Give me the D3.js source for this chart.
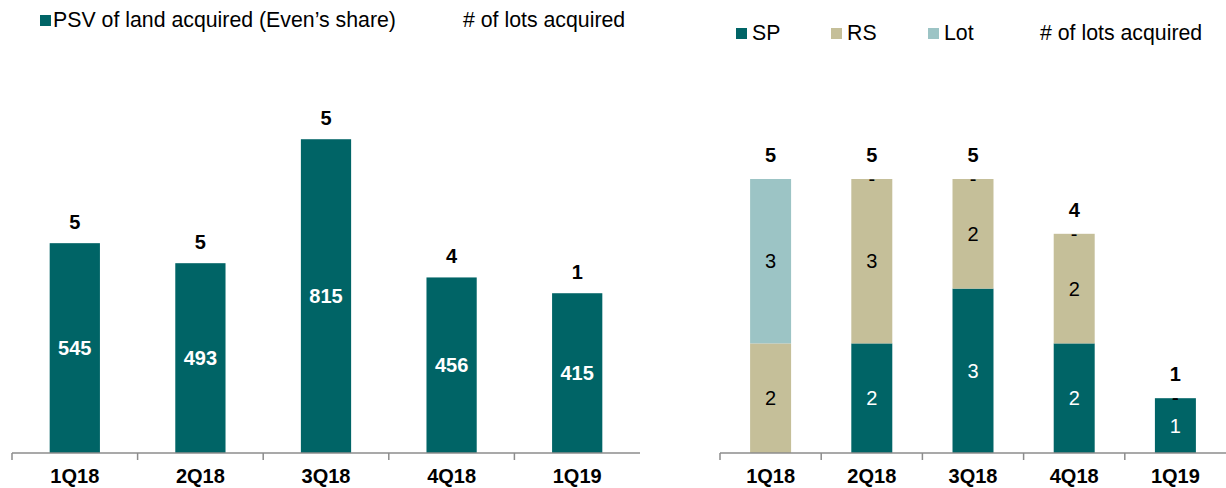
<!DOCTYPE html>
<html><head><meta charset="utf-8">
<script src="https://cdn.jsdelivr.net/npm/d3@7/dist/d3.min.js"></script>
<style>body{margin:0;background:#fff}svg{display:block;font-family:"Liberation Sans",Arial,sans-serif}</style>
</head><body><svg id="c" width="1226" height="488"></svg>
<script>
const categories = ["1Q18","2Q18","3Q18","4Q18","1Q19"];
const psv = [545,493,815,456,415];
const lots = [5,5,5,4,1];
const sp = [0,2,3,2,1];
const rs = [2,3,2,2,0];
const lot = [3,0,0,0,0];
const seriesNames = ["SP","RS","Lot"];

const C = {SP:"#006466", RS:"#C5BF99", Lot:"#9CC4C5", axis:"#8c8c8c"};
const svg = d3.select("#c");
const base = 453;

// ---- Left chart
const xL = d3.scaleBand().domain(categories).range([12,640]).paddingInner(0.6).paddingOuter(0.3);
const yL = d3.scaleLinear().domain([0,1000]).range([base, base-385]);
const gL = svg.append("g");
gL.selectAll("rect").data(categories).join("rect")
  .attr("x", d=>xL(d)).attr("width", xL.bandwidth())
  .attr("y", (d,i)=>yL(psv[i])).attr("height",(d,i)=>base-yL(psv[i])).attr("fill", C.SP);
gL.selectAll("text.v").data(categories).join("text").attr("class","v")
  .attr("x", d=>xL(d)+xL.bandwidth()/2).attr("y",(d,i)=>(yL(psv[i])+base)/2).attr("dy","0.35em")
  .attr("text-anchor","middle").attr("fill","#fff").attr("font-weight","bold").attr("font-size",20)
  .text((d,i)=>psv[i]);
gL.selectAll("text.t").data(categories).join("text").attr("class","t")
  .attr("x", d=>xL(d)+xL.bandwidth()/2).attr("y",(d,i)=>yL(psv[i])-14)
  .attr("text-anchor","middle").attr("fill","#000").attr("font-weight","bold").attr("font-size",20)
  .text((d,i)=>lots[i]);
const stepL = xL.step();
const axL = gL.append("g").attr("transform",`translate(0,${base})`);
axL.append("line").attr("x1",12).attr("x2",640).attr("stroke",C.axis).attr("stroke-width",1.5);
axL.selectAll("line.tk").data(categories).join("line").attr("class","tk")
  .attr("x1",d=>xL(d)+xL.bandwidth()/2-stepL/2).attr("x2",d=>xL(d)+xL.bandwidth()/2-stepL/2)
  .attr("y1",0).attr("y2",7).attr("stroke",C.axis).attr("stroke-width",1.5);
axL.selectAll("text").data(categories).join("text")
  .attr("x",d=>xL(d)+xL.bandwidth()/2).attr("y",30).attr("text-anchor","middle")
  .attr("font-weight","bold").attr("font-size",20).attr("fill","#000").text(d=>d);

// legend left
svg.append("rect").attr("x",40).attr("y",15).attr("width",11).attr("height",11).attr("fill",C.SP);
svg.append("text").attr("x",53).attr("y",27).attr("font-size",21.3).attr("fill","#000").text("PSV of land acquired (Even’s share)");
svg.append("text").attr("x",463).attr("y",27).attr("font-size",21.3).attr("fill","#000").text("# of lots acquired");

// ---- Right chart
const xR = d3.scaleBand().domain(categories).range([720,1226]).paddingInner(0.595).paddingOuter(0.2975);
const yR = d3.scaleLinear().domain([0,5]).range([base, base-274]);
const table = categories.map((c,i)=>({cat:c, SP:sp[i], RS:rs[i], Lot:lot[i]}));
const stack = d3.stack().keys(seriesNames)(table);
const gR = svg.append("g");
stack.forEach(layer=>{
  const key = layer.key;
  gR.append("g").selectAll("rect").data(layer).join("rect")
    .attr("x",d=>xR(d.data.cat)).attr("width",xR.bandwidth())
    .attr("y",d=>yR(d[1])).attr("height",d=>yR(d[0])-yR(d[1])).attr("fill",C[key]);
});
stack.forEach(layer=>{
  const key = layer.key;
  gR.append("g").selectAll("text").data(layer.filter(d=>!(d.data[key]===0 && d[0]===0))).join("text")
    .attr("x",d=>xR(d.data.cat)+xR.bandwidth()/2)
    .attr("y",d=>d.data[key]===0 ? yR(d[1]) : (yR(d[0])+yR(d[1]))/2).attr("dy","0.35em")
    .attr("text-anchor","middle").attr("font-size",20)
    .attr("fill",d=>key==="SP" && d.data[key]>0 ? "#fff" : "#000")
    .text(d=>d.data[key]===0 ? "-" : d.data[key]);
});
gR.selectAll("text.t").data(categories).join("text").attr("class","t")
  .attr("x",d=>xR(d)+xR.bandwidth()/2).attr("y",(d,i)=>yR(lots[i])-17)
  .attr("text-anchor","middle").attr("font-weight","bold").attr("font-size",20).attr("fill","#000")
  .text((d,i)=>lots[i]);
const stepR = xR.step();
const axR = gR.append("g").attr("transform",`translate(0,${base})`);
axR.append("line").attr("x1",720).attr("x2",1226).attr("stroke",C.axis).attr("stroke-width",1.5);
axR.selectAll("line.tk").data(categories).join("line").attr("class","tk")
  .attr("x1",d=>xR(d)+xR.bandwidth()/2-stepR/2).attr("x2",d=>xR(d)+xR.bandwidth()/2-stepR/2)
  .attr("y1",0).attr("y2",7).attr("stroke",C.axis).attr("stroke-width",1.5);
axR.selectAll("text").data(categories).join("text")
  .attr("x",d=>xR(d)+xR.bandwidth()/2).attr("y",30).attr("text-anchor","middle")
  .attr("font-weight","bold").attr("font-size",20).attr("fill","#000").text(d=>d);

// legend right
const legR = [["SP",736,752],["RS",831,847],["Lot",928,944]];
legR.forEach(([k,sx,tx])=>{
  svg.append("rect").attr("x",sx).attr("y",28).attr("width",11).attr("height",11).attr("fill",C[k]);
  svg.append("text").attr("x",tx).attr("y",40).attr("font-size",21.3).attr("fill","#000").text(k);
});
svg.append("text").attr("x",1040).attr("y",40).attr("font-size",21.3).attr("fill","#000").text("# of lots acquired");
</script></body></html>
